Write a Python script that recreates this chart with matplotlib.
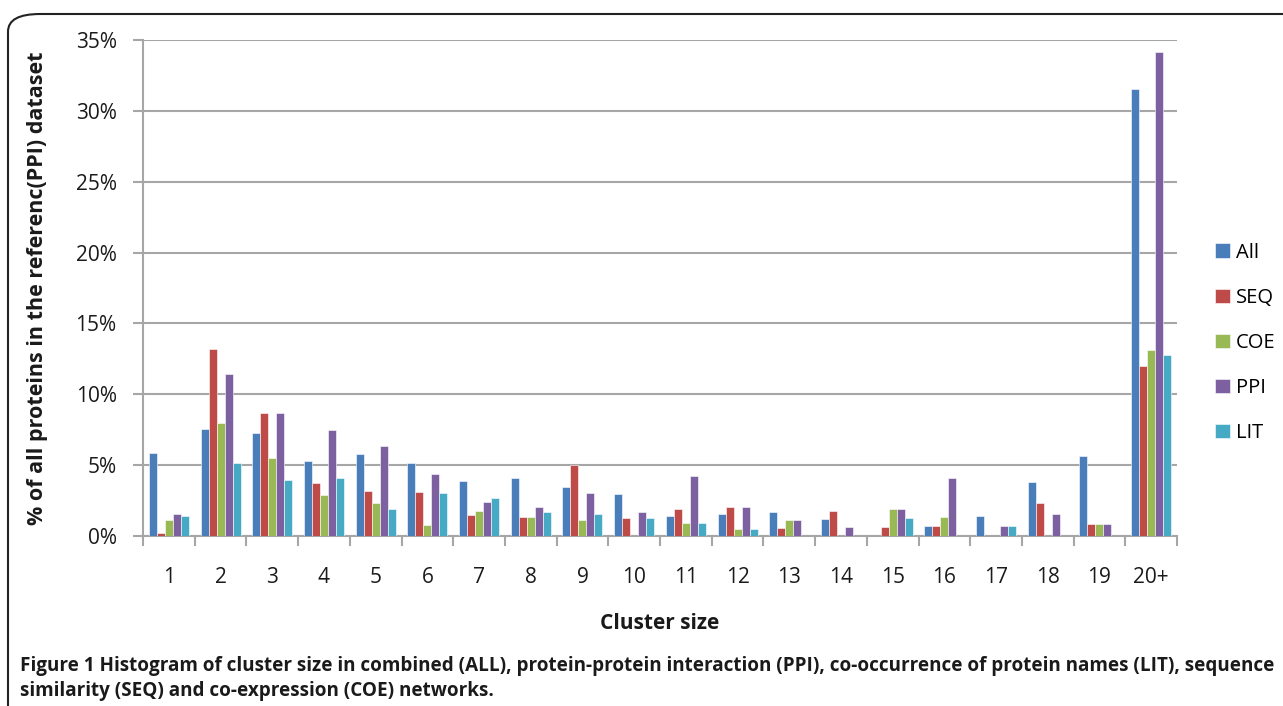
"""Histogram of cluster sizes across networks."""

import numpy as np
import matplotlib.pyplot as plt
from matplotlib.patches import FancyBboxPatch
from matplotlib.ticker import FixedLocator, PercentFormatter

plt.rcParams['font.family'] = 'Open Sans'

clusters = ['1', '2', '3', '4', '5', '6', '7', '8', '9', '10',
            '11', '12', '13', '14', '15', '16', '17', '18', '19', '20+']

# % of all proteins
all_net = [5.88, 7.55, 7.27, 5.27, 5.76, 5.13, 3.86, 4.07, 3.46, 2.96,
           1.39, 1.55, 1.67, 1.20, 0.0, 0.68, 1.43, 3.83, 5.65, 31.55]
seq = [0.19, 13.18, 8.68, 3.74, 3.20, 3.08, 1.48, 1.36, 4.99, 1.27,
       1.88, 2.05, 0.56, 1.76, 0.66, 0.68, 0.0, 2.31, 0.82, 11.98]
coe = [1.13, 7.97, 5.50, 2.89, 2.33, 0.78, 1.76, 1.36, 1.13, 0.0,
       0.94, 0.52, 1.11, 0.0, 1.91, 1.36, 0.0, 0.0, 0.82, 13.13]
ppi = [1.53, 11.41, 8.68, 7.48, 6.37, 4.35, 2.38, 2.05, 3.06, 1.72,
       4.21, 2.05, 1.11, 0.61, 1.91, 4.07, 0.71, 1.55, 0.82, 34.14]
lit = [1.39, 5.17, 3.95, 4.09, 1.91, 3.06, 2.68, 1.72, 1.53, 1.27,
       0.94, 0.52, 0.0, 0.0, 1.27, 0.0, 0.71, 0.0, 0.0, 12.80]

series = [('All', all_net, '#4a7ebb'),
          ('SEQ', seq, '#be4b48'),
          ('COE', coe, '#98b954'),
          ('PPI', ppi, '#7d60a0'),
          ('LIT', lit, '#46aac5')]

fig = plt.figure(figsize=(12.83, 7.06), dpi=100)
ax = fig.add_axes([143 / 1283, 170 / 706, 1034 / 1283, 496 / 706])

x = np.arange(len(clusters))
width = 0.155
for i, (name, vals, color) in enumerate(series):
    ax.bar(x + (i - 2) * width, vals, width, color=color, label=name,
           edgecolor='white', linewidth=0.4, zorder=3)

grid_color = '#a6a6a6'
text_color = '#1a1a1a'
ax.set_xlim(-0.5, len(clusters) - 0.5)
ax.set_ylim(0, 35)
ax.set_yticks(np.arange(0, 36, 5))
ax.yaxis.set_major_formatter(PercentFormatter(decimals=0))
ax.grid(axis='y', color=grid_color, linewidth=1.5, zorder=0)

ax.set_xticks(x)
ax.set_xticklabels(clusters)
ax.xaxis.set_minor_locator(FixedLocator(np.arange(-0.5, len(clusters), 1)))
ax.tick_params(axis='x', which='major', length=0, pad=22, labelsize=15, colors=text_color)
ax.tick_params(axis='x', which='minor', length=7, width=1.5, color=grid_color)
ax.tick_params(axis='y', length=7, width=1.5, color=grid_color, labelsize=15,
               labelcolor=text_color, pad=12)

for side in ['top', 'right']:
    ax.spines[side].set_visible(False)
for side in ['left', 'bottom']:
    ax.spines[side].set_color(grid_color)
    ax.spines[side].set_linewidth(1.5)

ax.set_xlabel('Cluster size', fontsize=15, fontweight='bold', labelpad=18,
              color=text_color)
ax.set_ylabel('% of all proteins in the referenc(PPI) dataset', fontsize=15.5,
              fontweight='bold', labelpad=20, color=text_color)

ax.legend(loc='center left', bbox_to_anchor=(1215 / 1283, 1 - 343 / 706),
          bbox_transform=fig.transFigure, frameon=False, fontsize=14.5,
          handlelength=0.72, handleheight=0.72, handletextpad=0.3,
          labelspacing=1.25, borderpad=0, borderaxespad=0)

# rounded frame around the figure panel
frame = FancyBboxPatch((8 / 1283, -0.05), 1.1, 1 - 14 / 706 + 0.05,
                       boxstyle='round,pad=0,rounding_size=0.025',
                       transform=fig.transFigure, fill=False,
                       edgecolor='#222222', linewidth=1.5)
fig.patches.append(frame)

fig.text(20 / 1283, 1 - 666 / 706,
         'Figure 1 Histogram of cluster size in combined (ALL), protein-protein interaction (PPI), '
         'co-occurrence of protein names (LIT), sequence',
         fontsize=13.6, fontweight='bold', va='center', ha='left', color=text_color)
fig.text(20 / 1283, 1 - 691 / 706,
         'similarity (SEQ) and co-expression (COE) networks.',
         fontsize=13.6, fontweight='bold', va='center', ha='left', color=text_color)

fig.savefig('out.png', dpi=100)
